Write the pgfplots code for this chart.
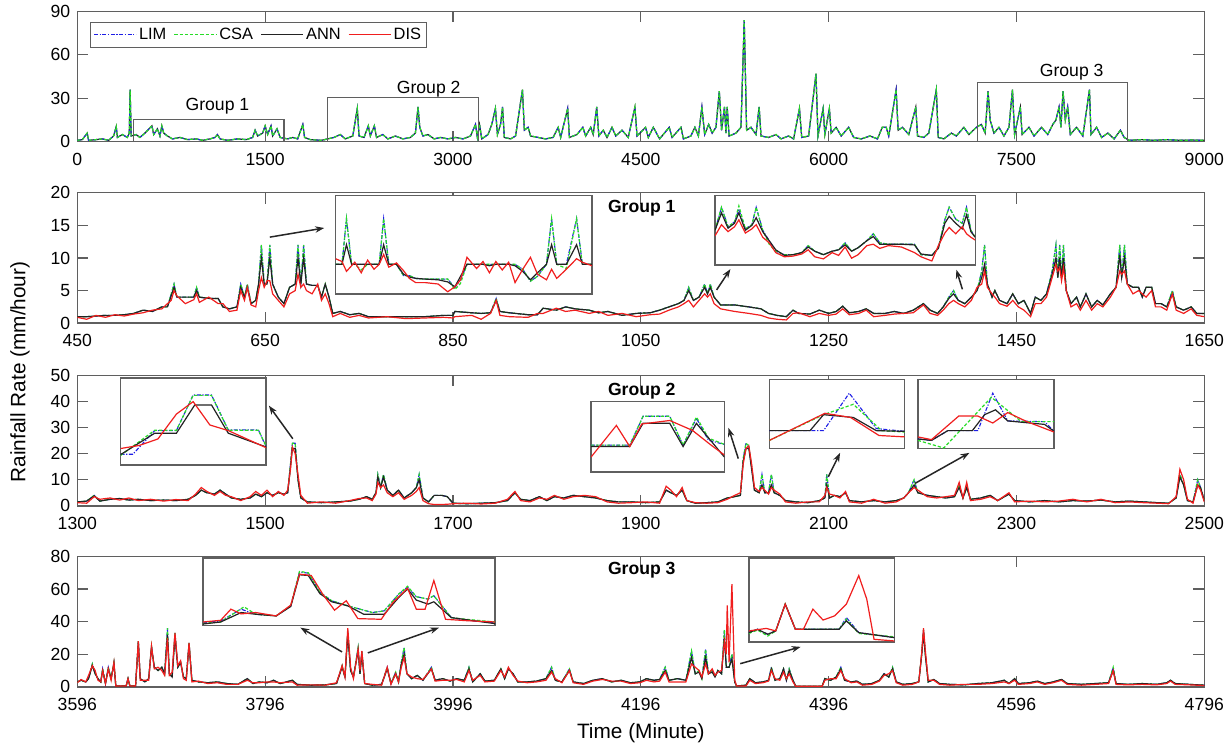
\documentclass[border=0pt]{standalone}
\usepackage{fontspec}
\setmainfont{Liberation Sans}
\usepackage{pgfplots}
\pgfplotsset{compat=1.18}
\usepackage{pgfplotstable}
\usetikzlibrary{arrows.meta}

\definecolor{limc}{RGB}{30,30,230}
\definecolor{csac}{RGB}{40,220,40}
\definecolor{annc}{RGB}{35,35,35}
\definecolor{disc}{RGB}{240,30,30}
\definecolor{frame}{RGB}{95,95,95}

\tikzset{
  lim/.style={draw=limc, line width=0.55pt, dash pattern=on 2pt off 0.8pt on 0.6pt off 0.8pt},
  csa/.style={draw=csac, line width=0.6pt, dash pattern=on 1.6pt off 1pt},
  ann/.style={draw=annc, line width=0.6pt, solid},
  dis/.style={draw=disc, line width=0.6pt, solid},
  arr/.style={-{Stealth[length=4.5pt,width=3.2pt]}, line width=0.75pt, draw=black!85, fill=black!85},
}
\pgfplotsset{
  panel/.style={scale only axis, anchor=south west, width=563.5pt, height=65.2pt,
    axis line style={frame, line width=0.7pt}, tick style={frame, line width=0.6pt},
    tick align=inside, major tick length=5.5pt, tick pos=both,
    ticklabel style={font=\fontsize{8.8}{10}\selectfont, text=black},
    xticklabel style={yshift=-2pt},
    /pgf/number format/assume math mode=true, /pgf/number format/1000 sep={},
    scaled ticks=false},
  inset/.style={scale only axis, anchor=south west, xtick=\empty, ytick=\empty,
    axis line style={frame, line width=0.7pt}, axis background/.style={fill=white},
    xmin=0, xmax=10, ymin=0, ymax=10},
}

% overview 0-9000 min
\pgfplotstableread{
x y
0 1
40 1.5
79 6
90 1
150 1.5
200 2
250 1
290 4
311 10.5
320 3
360 5
400 3
415 6
422 36
430 4
470 5
500 3
540 6
596 11
610 5
640 9
660 4
675 11
690 6
720 4
760 2
820 3
880 1.5
950 2
1000 1
1060 2
1100 3
1119 5
1140 2
1200 1
1280 2
1350 1.5
1400 3
1420 8
1440 4
1480 6
1500 11
1520 5
1547 11
1560 4
1595 9
1620 3
1680 2
1720 3
1760 2
1801 12
1815 3
1860 1.5
1950 1
2000 2
2050 3
2100 5
2140 2
2200 4
2236 23
2250 4
2290 3
2324 11
2340 4
2372 11
2390 3
2440 5
2480 2
2540 4
2600 2
2660 3
2700 6
2721 24
2735 10
2760 4
2800 5
2850 2
2900 3
2960 2
3020 3
3080 2
3140 4
3180 12
3195 3
3212 12
3230 2
3280 5
3310 12
3339 23
3355 5
3380 12
3396 24
3410 3
3460 2
3500 4
3555 36
3570 8
3600 10
3620 4
3680 3
3740 2
3800 3
3840 10
3860 3
3916 23
3930 3
3990 5
4037 10
4060 4
4100 10
4120 5
4148 24
4165 4
4200 8
4230 3
4270 10
4300 4
4350 8
4400 3
4453 24
4470 4
4538 10
4560 3
4600 10
4650 2
4727 10
4750 3
4821 10
4840 2
4900 4
4932 10
4960 4
4988 24
5010 5
5042 12
5070 6
5100 10
5127 35
5145 8
5168 24
5180 6
5190 24
5205 4
5260 6
5300 10
5326 84
5345 8
5380 10
5420 5
5445 24
5460 4
5520 3
5580 5
5620 2
5680 4
5720 2
5767 23
5785 3
5840 4
5899 47
5915 4
5956 23
5970 5
6006 23
6020 6
6060 10
6100 4
6160 10
6200 3
6260 2
6330 4
6390 2
6428 10
6460 10
6480 4
6539 36
6555 8
6590 10
6640 5
6696 24
6710 4
6760 3
6800 6
6860 36
6875 3
6920 2
6980 6
7020 4
7080 10
7120 5
7180 10
7220 12
7250 6
7273 35
7290 15
7320 6
7360 10
7400 4
7440 10
7468 36
7485 5
7531 24
7545 5
7600 10
7640 4
7700 10
7750 5
7790 12
7815 15
7840 24
7855 10
7872 35
7890 15
7909 24
7930 5
7980 10
8030 4
8083 36
8095 5
8140 10
8180 3
8230 6
8280 2
8330 8
8360 3
8400 1
8500 1.5
8600 1
8700 1.5
8800 1
8900 1.2
9000 1
}\tAll

% group 1
\pgfplotstableread{
x l c a d
450 1.0 1.0 1.0 0.9
460 1.0 1.0 1.0 0.6
470 1.1 1.1 1.1 1.2
480 1.2 1.2 1.2 0.9
490 1.2 1.2 1.2 1.3
500 1.3 1.3 1.3 1.1
510 1.5 1.5 1.5 1.4
520 2.0 2.0 2.0 1.6
530 1.8 1.8 1.8 2.0
540 2.5 2.5 2.5 2.2
546 2.5 2.5 2.5 3.0
550 4.5 4.5 4.2 3.5
553 6.0 6.0 5.5 5.0
556 4.0 4.0 4.0 4.2
565 4.0 4.0 4.0 3.0
574 4.0 4.0 4.0 3.6
577 5.5 5.5 5.0 4.5
580 4.0 4.0 4.0 3.2
590 3.8 3.8 3.8 4.0
600 3.8 3.8 3.8 3.0
605 2.5 2.5 2.5 3.0
612 2.2 2.2 2.2 1.8
620 2.5 2.5 2.5 2.0
624 6.0 6.0 5.5 5.0
628 4.0 4.0 4.0 3.5
631 6.0 6.0 5.5 5.5
635 3.0 3.0 3.0 2.8
640 3.5 3.5 3.5 2.5
643 6.0 6.0 6.0 5.0
646 12.0 12.0 10.0 7.0
649 6.0 6.0 6.0 5.5
652 6.0 6.0 6.0 6.5
655 12.0 12.0 10.0 6.5
658 6.0 6.0 6.0 4.5
664 4.0 4.0 4.0 3.5
670 3.0 3.0 3.0 2.5
676 5.5 5.5 5.5 4.5
682 6.0 6.0 6.0 5.0
685 12.0 12.0 10.0 7.5
688 6.0 6.0 6.0 5.5
691 12.0 12.0 10.0 6.0
694 6.0 6.0 6.0 5.0
700 5.8 5.8 5.8 4.5
706 5.8 5.8 5.8 6.0
710 4.0 4.0 4.0 3.5
714 6.0 6.0 6.0 4.5
718 4.0 4.0 4.0 3.0
722 1.5 1.5 1.5 1.0
730 1.8 1.8 1.8 1.5
740 1.3 1.3 1.3 0.9
750 1.5 1.5 1.5 1.2
760 1.0 1.0 1.0 0.8
780 1.0 1.0 1.0 1.0
800 1.0 1.0 1.0 0.7
820 1.0 1.0 1.0 0.8
840 1.2 1.2 1.2 0.9
850 1.2 1.2 1.2 0.8
852 1.8 1.8 1.8 1.0
870 1.6 1.6 1.6 1.2
880 1.5 1.5 1.5 0.6
890 1.6 1.6 1.6 1.5
896 3.8 3.8 3.5 3.5
900 1.8 1.8 1.8 1.2
910 1.6 1.6 1.6 1.0
930 1.3 1.3 1.3 0.9
940 1.3 1.3 1.3 1.5
946 2.3 2.3 2.3 1.5
960 2.0 2.0 2.0 2.3
970 2.5 2.5 2.5 1.8
980 2.2 2.2 2.2 2.0
995 2.0 2.0 2.0 1.5
1005 1.6 1.6 1.6 1.8
1015 1.8 1.8 1.8 1.2
1030 1.2 1.2 1.2 1.5
1045 1.5 1.5 1.5 1.0
1060 1.6 1.6 1.6 1.3
1070 2.0 2.0 2.0 1.4
1080 2.5 2.5 2.5 2.0
1090 3.0 3.0 3.0 2.5
1096 3.5 3.5 3.5 3.0
1101 5.5 5.5 5.0 3.5
1106 3.5 3.5 3.5 2.5
1112 4.0 4.0 4.0 3.5
1118 6.0 6.0 5.5 4.5
1121 4.5 4.5 4.5 4.0
1124 6.0 6.0 5.5 4.5
1128 4.0 4.0 4.0 3.0
1135 2.8 2.8 2.8 2.2
1150 2.8 2.8 2.8 1.8
1165 2.5 2.5 2.5 1.5
1178 2.2 2.2 2.2 1.2
1186 1.5 1.5 1.5 0.8
1195 1.2 1.2 1.2 0.6
1205 1.0 1.0 1.0 0.5
1212 2.0 2.0 2.0 1.5
1218 1.5 1.5 1.5 1.6
1230 1.4 1.4 1.4 1.0
1240 2.0 2.0 2.0 1.5
1250 1.5 1.5 1.5 1.2
1258 1.8 1.8 1.8 1.4
1265 2.6 2.6 2.6 2.2
1272 1.6 1.6 1.6 1.3
1282 1.8 1.8 1.8 1.5
1290 2.2 2.2 2.2 2.0
1298 1.5 1.5 1.5 1.0
1310 1.5 1.5 1.5 1.2
1320 1.8 1.8 1.8 1.4
1330 1.5 1.5 1.5 1.5
1340 2.0 2.0 2.0 1.6
1351 3.0 3.0 3.0 2.8
1358 2.0 2.0 2.0 1.5
1366 1.5 1.5 1.5 1.2
1372 2.5 2.5 2.5 2.0
1378 4.0 4.0 3.8 3.0
1383 5.0 5.0 4.5 3.5
1388 3.5 3.5 3.5 3.0
1395 3.0 3.0 3.0 2.5
1402 4.0 4.0 4.0 3.5
1408 5.0 5.0 5.0 5.5
1413 8.0 8.0 7.0 6.0
1416 12.0 12.0 9.0 8.0
1419 6.0 6.0 6.0 5.5
1424 4.0 4.0 4.0 4.5
1427 5.0 5.0 5.0 4.0
1432 3.5 3.5 3.5 3.0
1440 3.0 3.0 3.0 2.6
1446 4.5 4.5 4.5 3.5
1452 3.0 3.0 3.0 2.5
1458 3.5 3.5 3.5 2.0
1465 1.5 1.5 1.5 1.0
1470 4.0 4.0 4.0 3.0
1476 3.5 3.5 3.5 3.0
1482 4.5 4.5 4.5 4.0
1488 8.0 8.0 7.5 7.0
1492 12.0 12.0 10.0 9.0
1494 7.0 7.0 7.0 8.0
1496 12.0 12.0 10.0 8.5
1498 7.0 7.0 7.0 6.5
1500 12.0 12.0 10.0 8.5
1503 5.0 5.0 5.0 5.0
1508 3.0 3.0 3.0 2.5
1514 4.0 4.0 4.0 3.0
1518 2.5 2.5 2.5 2.0
1524 4.5 4.5 4.5 3.5
1530 2.5 2.5 2.5 2.0
1536 3.5 3.5 3.5 3.0
1542 2.8 2.8 2.8 2.5
1550 4.5 4.5 4.5 4.0
1556 5.5 5.5 5.5 5.5
1560 12.0 12.0 10.5 8.0
1562 7.0 7.0 7.0 7.5
1565 12.0 12.0 10.0 8.0
1568 6.0 6.0 6.0 6.0
1574 5.5 5.5 5.5 4.5
1580 5.5 5.5 5.5 5.0
1584 4.0 4.0 4.0 4.5
1588 5.5 5.5 5.5 4.0
1594 5.5 5.5 5.5 5.0
1598 3.0 3.0 3.0 2.5
1604 3.0 3.0 3.0 2.5
1610 2.5 2.5 2.5 2.0
1616 5.0 5.0 4.5 4.5
1620 2.5 2.5 2.5 2.0
1628 2.0 2.0 2.0 1.5
1636 2.5 2.5 2.5 2.2
1642 1.5 1.5 1.5 1.2
1650 1.5 1.5 1.5 1.0
}\tGa

% group 2
\pgfplotstableread{
x l c a d
1300 1.5 1.5 1.5 1.2
1310 1.8 1.8 1.8 1.0
1318 4.0 4.0 3.8 3.5
1324 1.8 1.8 1.8 2.5
1335 2.5 2.5 2.5 3.0
1345 2.8 2.8 2.8 2.2
1355 2.2 2.2 2.2 3.0
1365 2.5 2.5 2.5 2.0
1378 2.0 2.0 2.0 2.5
1392 2.2 2.2 2.2 1.8
1405 2.0 2.0 2.0 2.4
1418 2.5 2.5 2.5 2.0
1426 4.0 4.0 4.0 4.5
1432 6.0 6.0 6.0 7.0
1438 5.0 5.0 5.0 5.5
1446 4.5 4.5 4.5 4.0
1452 6.0 6.0 6.0 5.5
1458 4.5 4.5 4.5 4.0
1464 3.0 3.0 3.0 3.5
1474 2.5 2.5 2.5 2.0
1484 3.0 3.0 3.0 3.5
1490 4.5 4.5 4.5 5.5
1496 3.5 3.5 3.5 4.0
1502 5.0 5.0 5.0 6.0
1508 4.0 4.0 4.0 3.5
1514 5.0 5.0 5.0 5.5
1520 4.5 4.5 4.5 4.0
1524 5.0 5.0 5.0 6.0
1527 16.0 16.0 15.0 14.0
1529 24.0 24.0 22.0 22.5
1532 24.0 24.0 22.0 20.0
1535 10.0 10.0 10.0 12.0
1538 3.0 3.0 3.0 4.0
1545 1.5 1.5 1.5 1.0
1560 1.2 1.2 1.2 1.5
1575 1.5 1.5 1.5 1.0
1590 1.8 1.8 1.8 2.0
1600 2.5 2.5 2.5 2.8
1608 3.5 3.5 3.5 3.0
1614 2.5 2.5 2.5 2.0
1618 5.0 5.0 5.0 4.5
1620 12.0 12.0 11.0 9.0
1623 7.0 7.0 7.0 7.0
1626 12.0 12.0 11.0 8.0
1630 6.0 6.0 6.0 5.0
1636 4.0 4.0 4.0 3.5
1642 6.0 6.0 6.0 5.0
1648 3.0 3.0 3.0 2.5
1656 5.0 5.0 5.0 4.0
1661 7.0 7.0 7.0 5.5
1664 12.0 12.0 10.0 7.0
1668 3.0 3.0 3.0 2.0
1674 1.5 1.5 1.5 0.8
1680 4.0 4.0 4.0 0.5
1688 4.0 4.0 4.0 0.5
1694 3.5 3.5 3.5 0.6
1700 1.0 1.0 1.0 0.8
1715 0.8 0.8 0.8 1.0
1730 1.0 1.0 1.0 0.7
1745 1.2 1.2 1.2 1.0
1758 2.0 2.0 2.0 2.5
1766 5.0 5.0 5.0 5.5
1772 2.5 2.5 2.5 2.0
1782 2.0 2.0 2.0 1.5
1792 3.5 3.5 3.5 3.0
1800 2.0 2.0 2.0 2.5
1808 3.5 3.5 3.5 4.0
1818 3.0 3.0 3.0 2.5
1828 4.0 4.0 4.0 3.5
1840 3.5 3.5 3.5 4.0
1852 3.0 3.0 3.0 3.5
1864 2.0 2.0 2.0 1.5
1876 1.5 1.5 1.5 1.0
1890 1.5 1.5 1.5 1.2
1905 1.2 1.2 1.2 1.5
1920 1.5 1.5 1.5 1.0
1927 6.0 6.0 6.0 7.5
1932 5.0 5.0 5.0 6.0
1938 4.0 4.0 4.0 3.5
1944 6.0 6.0 6.0 7.0
1949 2.0 2.0 2.0 2.0
1958 1.0 1.0 1.0 1.2
1970 1.2 1.2 1.2 1.0
1982 1.5 1.5 1.5 1.2
1992 3.0 3.0 3.0 2.5
2000 3.5 3.5 3.5 4.0
2006 4.0 4.0 4.0 5.0
2009 18.0 18.0 17.0 16.0
2012 24.0 24.0 22.0 22.0
2015 23.0 23.0 22.0 23.0
2018 15.0 15.0 14.0 16.0
2021 6.0 6.0 6.0 7.0
2026 5.0 5.0 5.0 5.5
2029 12.0 12.0 8.0 7.0
2032 5.0 5.0 5.0 6.0
2036 5.0 5.0 5.0 4.5
2039 12.0 12.0 8.0 7.0
2042 5.0 5.0 5.0 6.0
2048 4.0 4.0 4.0 4.5
2054 2.0 2.0 2.0 1.5
2065 1.5 1.5 1.5 1.0
2078 1.2 1.2 1.2 1.5
2090 2.0 2.0 2.0 1.5
2096 3.0 3.0 3.0 4.0
2098 12.0 12.0 8.0 7.0
2101 3.0 3.0 3.0 4.5
2106 4.0 4.0 4.0 4.0
2112 3.5 3.5 3.5 3.0
2118 5.0 5.0 5.0 5.5
2122 2.0 2.0 2.0 1.5
2135 1.5 1.5 1.5 1.0
2148 2.0 2.0 2.0 2.5
2160 1.5 1.5 1.5 1.0
2172 2.0 2.0 2.0 1.5
2180 3.0 3.0 3.0 3.0
2185 5.0 5.0 5.0 5.0
2191 10.0 10.0 8.0 7.0
2195 5.0 5.0 5.0 6.0
2205 4.0 4.0 4.0 3.5
2215 3.5 3.5 3.5 3.0
2225 3.0 3.0 3.0 3.5
2234 3.5 3.5 3.5 4.0
2239 8.0 8.0 7.0 9.0
2243 3.0 3.0 3.0 3.0
2247 7.0 7.0 7.0 9.0
2251 2.5 2.5 2.5 2.0
2262 3.0 3.0 3.0 2.5
2272 4.0 4.0 4.0 3.5
2280 2.0 2.0 2.0 2.0
2292 4.5 4.5 4.5 5.0
2298 2.0 2.0 2.0 1.5
2315 1.5 1.5 1.5 1.8
2330 2.0 2.0 2.0 1.5
2345 1.5 1.5 1.5 1.8
2360 2.0 2.0 2.0 2.5
2375 1.8 1.8 1.8 1.5
2390 2.2 2.2 2.2 2.5
2405 1.5 1.5 1.5 1.2
2420 1.8 1.8 1.8 1.5
2435 1.5 1.5 1.5 1.2
2450 1.2 1.2 1.2 1.0
2462 1.0 1.0 1.0 0.8
2470 3.0 3.0 3.0 3.5
2474 12.0 12.0 11.0 14.0
2478 8.0 8.0 8.0 10.0
2482 2.0 2.0 2.0 2.5
2488 1.5 1.5 1.5 1.0
2493 10.0 10.0 8.0 8.0
2496 7.0 7.0 7.0 6.0
2500 2.0 2.0 2.0 1.5
}\tGb

% group 3
\pgfplotstableread{
x l c a d
3596 3.0 3.0 3.0 2.5
3600 4.0 4.0 4.0 4.5
3605 3.0 3.0 3.0 3.0
3608 5.0 5.0 5.0 7.0
3612 14.0 14.0 13.0 13.0
3615 8.0 8.0 8.0 10.0
3618 5.0 5.0 5.0 4.0
3621 3.0 3.0 3.0 3.0
3623 11.0 11.0 10.0 10.0
3626 2.0 2.0 2.0 2.0
3629 12.0 12.0 11.0 11.0
3632 5.0 5.0 5.0 4.0
3635 15.0 15.0 14.0 15.0
3637 0.5 0.5 0.5 0.5
3648 0.5 0.5 0.5 0.5
3650 5.0 5.0 5.0 5.0
3652 0.5 0.5 0.5 0.5
3658 0.5 0.5 0.5 0.5
3661 28.0 28.0 27.0 28.0
3663 5.0 5.0 5.0 4.0
3668 3.0 3.0 3.0 4.0
3672 5.0 5.0 5.0 4.0
3675 25.0 25.0 24.0 25.0
3678 12.0 12.0 12.0 11.0
3682 10.0 10.0 10.0 12.0
3686 12.0 12.0 12.0 10.0
3689 8.0 8.0 8.0 7.0
3692 36.0 36.0 32.0 30.0
3694 8.0 8.0 8.0 7.0
3697 6.0 6.0 6.0 9.0
3700 33.0 33.0 31.0 33.0
3703 12.0 12.0 12.0 13.0
3706 15.0 15.0 15.0 16.0
3709 6.0 6.0 6.0 5.0
3712 5.0 5.0 5.0 4.0
3715 27.0 27.0 26.0 27.0
3718 4.0 4.0 4.0 3.0
3725 3.0 3.0 3.0 3.5
3735 2.5 2.5 2.5 2.0
3745 3.0 3.0 3.0 2.5
3755 2.0 2.0 2.0 1.5
3767 1.5 1.5 1.5 1.5
3777 5.0 5.0 5.0 4.0
3783 2.0 2.0 2.0 2.5
3790 3.0 3.0 3.0 2.5
3798 2.5 2.5 2.5 3.0
3805 4.0 4.0 4.0 3.0
3812 2.0 2.0 2.0 2.5
3825 4.0 4.0 4.0 3.0
3830 1.5 1.5 1.5 1.0
3845 1.0 1.0 1.0 1.2
3860 1.2 1.2 1.2 1.0
3872 2.0 2.0 2.0 2.5
3878 13.0 13.0 12.0 13.0
3881 6.0 6.0 6.0 6.0
3884 34.0 34.0 32.0 36.0
3887 10.0 10.0 10.0 12.0
3890 6.0 6.0 6.0 5.0
3895 24.0 24.0 22.0 23.0
3897 8.0 8.0 8.0 10.0
3899 22.0 22.0 20.0 22.0
3902 2.0 2.0 2.0 2.0
3910 1.0 1.0 1.0 1.5
3920 1.5 1.5 1.5 1.0
3926 12.0 12.0 11.0 12.0
3930 2.0 2.0 2.0 1.5
3935 9.0 9.0 8.0 8.0
3938 3.0 3.0 3.0 3.0
3941 15.0 15.0 14.0 12.0
3944 24.0 24.0 20.0 18.0
3947 8.0 8.0 8.0 8.0
3952 5.0 5.0 5.0 6.0
3958 7.0 7.0 7.0 5.0
3964 4.0 4.0 4.0 4.5
3973 12.0 12.0 11.0 11.0
3977 4.0 4.0 4.0 3.5
3985 5.0 5.0 5.0 4.0
3993 3.5 3.5 3.5 4.0
4000 5.0 5.0 5.0 4.5
4008 4.0 4.0 4.0 3.0
4013 12.0 12.0 11.0 10.0
4017 3.0 3.0 3.0 4.0
4025 8.0 8.0 8.0 7.0
4030 3.5 3.5 3.5 3.0
4040 4.0 4.0 4.0 3.5
4047 11.0 11.0 11.0 10.0
4051 5.0 5.0 5.0 6.0
4055 11.0 11.0 11.0 12.0
4060 8.0 8.0 8.0 7.0
4065 3.0 3.0 3.0 3.5
4075 3.0 3.0 3.0 2.5
4085 3.5 3.5 3.5 3.0
4095 5.0 5.0 5.0 4.0
4101 12.0 12.0 10.0 9.0
4105 4.0 4.0 4.0 5.0
4112 3.0 3.0 3.0 2.5
4120 11.0 11.0 10.0 10.0
4124 3.0 3.0 3.0 2.5
4135 2.0 2.0 2.0 1.5
4145 4.0 4.0 4.0 3.5
4155 5.0 5.0 5.0 4.5
4165 3.0 3.0 3.0 3.5
4175 4.0 4.0 4.0 3.5
4185 2.5 2.5 2.5 2.0
4195 3.0 3.0 3.0 2.5
4202 5.0 5.0 5.0 4.0
4210 4.0 4.0 4.0 3.0
4216 4.5 4.5 4.5 3.5
4222 12.0 12.0 10.0 9.0
4226 4.0 4.0 4.0 3.0
4235 5.0 5.0 5.0 3.0
4244 4.0 4.0 4.0 3.0
4250 22.0 22.0 18.0 14.0
4254 8.0 8.0 8.0 12.0
4258 10.0 10.0 9.0 10.0
4261 5.0 5.0 5.0 6.0
4265 23.0 23.0 18.0 14.0
4268 8.0 8.0 8.0 8.0
4272 10.0 10.0 9.0 11.0
4275 6.0 6.0 6.0 7.0
4278 10.0 10.0 10.0 9.0
4282 8.0 8.0 8.0 10.0
4285 35.0 35.0 30.0 28.0
4287 12.0 12.0 12.0 20.0
4288 12.0 12.0 12.0 50.0
4290 12.0 12.0 12.0 15.0
4293 20.0 20.0 17.0 63.0
4296 3.0 3.0 3.0 4.0
4298 0.5 0.5 0.5 0.5
4308 1.0 1.0 1.0 0.5
4312 5.0 5.0 5.0 4.0
4318 2.5 2.5 2.5 2.0
4326 3.0 3.0 3.0 2.5
4332 4.0 4.0 4.0 3.5
4335 12.0 12.0 11.0 10.0
4339 4.0 4.0 4.0 5.0
4344 5.0 5.0 5.0 4.0
4348 11.0 11.0 11.0 9.0
4351 4.0 4.0 4.0 5.0
4354 11.0 11.0 10.0 8.0
4358 4.0 4.0 4.0 3.0
4361 0.3 0.3 0.3 0.3
4389 0.3 0.3 0.3 0.3
4392 5.0 5.0 5.0 4.0
4398 4.0 4.0 4.0 5.0
4404 6.0 6.0 6.0 5.0
4409 12.0 12.0 11.0 10.0
4413 4.0 4.0 4.0 5.0
4420 3.0 3.0 3.0 2.5
4426 3.5 3.5 3.5 3.0
4432 1.5 1.5 1.5 1.0
4442 2.0 2.0 2.0 1.5
4450 4.0 4.0 4.0 3.5
4455 8.0 8.0 8.0 7.0
4460 6.0 6.0 6.0 8.0
4464 12.0 12.0 11.0 10.0
4468 3.0 3.0 3.0 2.5
4475 1.5 1.5 1.5 1.0
4485 2.0 2.0 2.0 1.5
4492 3.0 3.0 3.0 3.0
4495 20.0 20.0 19.0 20.0
4497 35.0 35.0 33.0 36.0
4499 20.0 20.0 19.0 22.0
4502 3.0 3.0 3.0 4.0
4508 4.5 4.5 4.5 4.0
4514 2.0 2.0 2.0 1.5
4525 1.5 1.5 1.5 1.0
4540 1.2 1.2 1.2 1.5
4555 2.0 2.0 2.0 1.5
4570 2.5 2.5 2.5 2.0
4583 4.0 4.0 4.0 3.0
4588 2.0 2.0 2.0 2.0
4594 5.0 5.0 5.0 4.0
4598 2.0 2.0 2.0 1.5
4610 2.5 2.5 2.5 2.0
4618 3.5 3.5 3.5 3.0
4626 2.0 2.0 2.0 1.5
4635 3.0 3.0 3.0 2.5
4644 4.5 4.5 4.5 4.0
4650 2.0 2.0 2.0 1.5
4665 1.5 1.5 1.5 1.0
4680 2.0 2.0 2.0 1.5
4694 2.5 2.5 2.5 2.0
4699 12.0 12.0 10.0 10.0
4702 2.0 2.0 2.0 1.5
4715 1.5 1.5 1.5 1.2
4730 2.0 2.0 2.0 1.5
4745 1.5 1.5 1.5 1.2
4756 2.5 2.5 2.5 2.0
4760 4.0 4.0 4.0 3.5
4765 2.0 2.0 2.0 1.5
4780 1.5 1.5 1.5 1.2
4796 1.0 1.0 1.0 0.8
}\tGc

% zoom A (group 1, left)
\pgfplotstableread{
x l c a d
0 7.2 7.2 7.2 8.0
1 7.2 7.2 7.2 7.6
1.7 13.7 13.7 10.0 6.2
2.5 7.2 7.2 7.2 7.0
3 7.2 7.2 7.2 7.5
4 7.2 6.4 7.2 6.0
5 7.2 7.2 7.2 7.8
6 7.2 7.2 7.2 6.5
6.8 7.2 7.2 7.2 7.2
7.5 13.7 13.7 10.0 8.6
8.3 7.2 7.2 7.2 6.8
9.5 7.2 7.2 7.2 7.4
10.6 5.6 5.6 5.8 6.3
11.5 5.6 5.6 5.4 5.2
12.5 5.2 5.2 5.2 4.6
14 5.1 5.1 5.1 4.6
16 5.1 5.1 5.0 4.4
17.5 5.1 5.1 4.7 3.3
18.6 3.9 3.6 4.0 4.0
19.5 5.0 4.5 5.5 5.0
20.5 7.2 7.2 7.2 8.2
22 7.2 7.2 7.2 6.6
23 7.2 7.2 7.2 7.6
24 7.2 7.2 7.0 6.0
25 7.2 7.2 7.2 7.6
26 7.2 7.2 7.2 6.4
27 7.2 7.2 7.2 7.5
28 7.2 7.2 7.0 4.6
29.2 6.5 6.5 6.2 6.5
30.4 4.8 4.8 5.0 8.2
31.5 5.5 5.5 6.0 5.8
32.9 7.2 7.2 7.2 5.0
33.7 13.7 13.7 10.0 6.5
34.5 7.2 7.2 7.2 5.2
36 7.2 6.6 7.2 6.5
37.6 13.7 13.7 10.0 8.0
38.5 7.2 7.2 7.2 7.5
40 7.2 7.2 7.2 7.0
}\tZa

% zoom B (group 1, right)
\pgfplotstableread{
x l c a d
0 5.0 5.0 5.0 4.2
1.5 8.3 8.3 7.5 5.8
3 5.5 5.5 5.3 4.8
4.5 6.2 6.2 6.0 5.5
5.5 8.0 8.5 7.5 6.5
7 5.2 5.2 5.0 4.6
8.5 5.8 5.8 5.7 5.2
9.5 8.3 8.3 6.8 5.8
11 5.0 5.0 4.8 4.0
12.5 3.5 3.0 3.5 3.2
14 2.0 2.0 2.2 1.8
16 1.5 1.5 1.4 1.2
18 1.5 1.5 1.5 1.3
20 1.8 1.8 1.8 1.6
21.5 2.8 2.8 2.6 2.2
23 2.0 2.0 2.0 1.2
25 1.5 1.5 1.5 0.9
27 2.0 2.0 2.0 1.8
28.5 2.2 2.2 2.2 1.4
30 3.2 3.2 2.9 2.6
31.5 2.0 2.0 2.0 1.0
33 2.5 2.5 2.5 1.5
35 3.5 3.5 3.5 2.8
36.5 4.5 4.5 4.1 3.0
38 3.2 3.2 3.0 2.4
40 3.0 3.0 3.0 2.8
43 3.0 3.0 3.0 2.6
46 3.0 3.0 2.9 1.8
47.5 1.5 1.5 1.6 1.2
50 1.4 1.4 1.4 0.6
51.5 2.5 2.5 2.4 2.8
53 6.5 6.5 6.0 4.6
54 8.3 8.3 7.0 5.4
55.5 6.6 6.6 6.0 4.5
57 6.0 6.0 5.2 5.5
58 8.3 8.3 7.2 4.5
59 5.0 5.0 4.8 4.0
60 4.0 4.0 4.0 3.6
}\tZb

\begin{document}
\begin{tikzpicture}
\useasboundingbox (0,0) rectangle (614.5pt,375pt);

% ---------- overview ----------
\begin{axis}[panel, at={(38.65pt,304.1pt)},
  xmin=0, xmax=9000, ymin=0, ymax=90,
  xtick={0,1500,...,9000}, ytick={0,30,60,90},
  legend columns=4,
  legend style={at={(0.0119,0.915)}, anchor=north west, draw=none,
    fill=white, font=\fontsize{8.2}{9.5}\selectfont, inner sep=1.2pt,
    nodes={inner sep=1.2pt}, name=leg,
    /tikz/every even column/.append style={column sep=2.5pt}},
  legend cell align=left]
\addplot[ann, forget plot] table[x=x,y=y] {\tAll};
\addplot[lim, forget plot] table[x=x,y=y] {\tAll};
\addplot[csa, forget plot] table[x=x,y=y] {\tAll};
\addlegendimage{legend image code/.code={\draw[lim] (0pt,0pt) -- (21pt,0pt);}}
\addlegendentry{LIM}
\addlegendimage{legend image code/.code={\draw[csa] (0pt,0pt) -- (21pt,0pt);}}
\addlegendentry{CSA}
\addlegendimage{legend image code/.code={\draw[ann] (0pt,0pt) -- (21pt,0pt);}}
\addlegendentry{ANN}
\addlegendimage{legend image code/.code={\draw[dis] (0pt,0pt) -- (21pt,0pt);}}
\addlegendentry{DIS}
\draw[frame, line width=0.7pt] (axis cs:450,0) rectangle (axis cs:1650,15.2);
\draw[frame, line width=0.7pt] (axis cs:2000,0) rectangle (axis cs:3205,30.4);
\draw[frame, line width=0.7pt] (axis cs:7190,0) rectangle (axis cs:8385,41);
\node[font=\fontsize{8.8}{10}\selectfont] at (axis cs:1119,24.5) {Group 1};
\node[font=\fontsize{8.8}{10}\selectfont] at (axis cs:2806,36.3) {Group 2};
\node[font=\fontsize{8.8}{10}\selectfont] at (axis cs:7941,48) {Group 3};
\end{axis}
\draw[frame, line width=0.7pt] (leg.south west) rectangle (leg.north east);

% ---------- group 1 ----------
\begin{axis}[panel, at={(38.65pt,213.4pt)},
  xmin=450, xmax=1650, ymin=0, ymax=20,
  xtick={450,650,...,1650}, ytick={0,5,...,20}]
\addplot[lim] table[x=x,y=l] {\tGa};
\addplot[csa] table[x=x,y=c] {\tGa};
\addplot[ann] table[x=x,y=a] {\tGa};
\addplot[dis] table[x=x,y=d] {\tGa};
\node[font=\fontsize{8.8}{10}\selectfont\bfseries] at (axis cs:1051,17.6) {Group 1};
\draw[arr] (axis cs:655,13.2) -- (axis cs:712.9,14.6);
\draw[arr] (axis cs:1130.7,5.1) -- (axis cs:1145.4,8.3);
\draw[arr] (axis cs:1392.4,5.2) -- (axis cs:1386,8.2);
\coordinate (iA) at (axis cs:725,4.5);
\coordinate (iB) at (axis cs:1129,8.9);
\end{axis}
\begin{axis}[inset, at={(iA)}, width=128.2pt, height=49.2pt, xmax=40, ymin=3, ymax=17]
\addplot[lim] table[x=x,y=l] {\tZa};
\addplot[csa] table[x=x,y=c] {\tZa};
\addplot[ann] table[x=x,y=a] {\tZa};
\addplot[dis] table[x=x,y=d] {\tZa};
\end{axis}
\begin{axis}[inset, at={(iB)}, width=130.1pt, height=34.9pt, xmax=60]
\addplot[lim] table[x=x,y=l] {\tZb};
\addplot[csa] table[x=x,y=c] {\tZb};
\addplot[ann] table[x=x,y=a] {\tZb};
\addplot[dis] table[x=x,y=d] {\tZb};
\end{axis}

% ---------- group 2 ----------
\begin{axis}[panel, at={(38.65pt,122.1pt)},
  xmin=1300, xmax=2500, ymin=0, ymax=50,
  xtick={1300,1500,...,2500}, ytick={0,10,...,50}]
\addplot[lim] table[x=x,y=l] {\tGb};
\addplot[csa] table[x=x,y=c] {\tGb};
\addplot[ann] table[x=x,y=a] {\tGb};
\addplot[dis] table[x=x,y=d] {\tGb};
\node[font=\fontsize{8.8}{10}\selectfont\bfseries] at (axis cs:1901,44) {Group 2};
\draw[arr] (axis cs:1529.5,25.7) -- (axis cs:1504,38.4);
\draw[arr] (axis cs:2003.8,18.1) -- (axis cs:1993.3,29.9);
\draw[arr] (axis cs:2099.6,11.1) -- (axis cs:2112.2,20.3);
\draw[arr] (axis cs:2192,8.6) -- (axis cs:2249.9,20.3);
\coordinate (iC) at (axis cs:1346,15.6);
\coordinate (iD) at (axis cs:1847,13.0);
\coordinate (iE) at (axis cs:2037,21.9);
\coordinate (iF) at (axis cs:2195,21.9);
\end{axis}
\begin{axis}[inset, at={(iC)}, width=72.8pt, height=43.6pt]
\addplot[lim] coordinates {(0,1.25) (0.85,1.25) (2.35,3.96) (3.84,3.96) (4.99,8.04) (6.25,8.04) (7.4,4.04) (9.47,4.04) (10,2.08)};
\addplot[csa] coordinates {(0,1.1) (2.35,4.0) (3.84,4.0) (4.99,8.0) (6.25,8.0) (7.4,4.0) (9.47,4.0) (10,2.2)};
\addplot[ann] coordinates {(0,1.2) (2.35,3.66) (3.84,3.66) (5.1,6.9) (6.25,6.9) (7.4,3.66) (10,2.08)};
\addplot[dis] coordinates {(0,1.9) (1.3,2.26) (2.57,3.0) (3.84,5.85) (4.99,7.28) (6.14,4.6) (7.4,3.96) (10,2.0)};
\end{axis}
\begin{axis}[inset, at={(iD)}, width=66.7pt, height=35.2pt]
\addplot[lim] coordinates {(0,3.8) (2.9,3.8) (3.9,7.9) (5.9,7.9) (6.9,3.8) (7.9,7.6) (8.8,4.5) (10,3.9)};
\addplot[csa] coordinates {(0,3.8) (2.9,3.8) (3.9,7.9) (5.9,7.9) (6.9,3.8) (7.9,7.8) (8.8,4.8) (10,3.9)};
\addplot[ann] coordinates {(0,3.6) (2.9,3.6) (3.9,6.9) (5.9,6.9) (6.9,3.6) (7.9,6.9) (10,2.1)};
\addplot[dis] coordinates {(0,2.1) (1.9,6.6) (2.9,3.6) (3.8,6.8) (5.9,7.3) (7.6,5.9) (9.0,3.8) (10,2.4)};
\end{axis}
\begin{axis}[inset, at={(iE)}, width=67.6pt, height=34.7pt]
\addplot[lim] coordinates {(0,2.6) (4.0,2.6) (5.9,8.0) (7.9,2.9) (10,2.5)};
\addplot[csa] coordinates {(0,1.2) (4.0,4.9) (6.2,6.4) (8.3,2.6) (10,2.4)};
\addplot[ann] coordinates {(0,2.6) (3.0,2.6) (4.0,4.9) (6.2,4.5) (7.9,2.6) (10,2.5)};
\addplot[dis] coordinates {(0,1.2) (4.1,5.1) (6.0,4.5) (8.1,1.9) (10,1.7)};
\end{axis}
\begin{axis}[inset, at={(iF)}, width=68.1pt, height=34.7pt]
\addplot[lim] coordinates {(0,1.4) (1.0,1.2) (2.2,2.6) (4.4,2.6) (5.5,8.0) (6.6,4.0) (9.3,3.9) (10,2.5)};
\addplot[csa] coordinates {(0,1.2) (1.9,0.1) (5.4,7.4) (7.6,3.9) (10,3.9)};
\addplot[ann] coordinates {(0,1.4) (1.0,1.2) (2.2,2.6) (4.0,2.6) (4.9,4.9) (5.7,5.6) (6.6,4.0) (9.3,3.5) (10,2.5)};
\addplot[dis] coordinates {(0,1.7) (1.0,1.3) (3.0,4.7) (4.4,4.7) (5.5,3.7) (6.6,5.2) (8.0,3.9) (10,2.4)};
\end{axis}

% ---------- group 3 ----------
\begin{axis}[panel, at={(38.65pt,31.6pt)},
  xmin=3596, xmax=4796, ymin=0, ymax=80,
  xtick={3596,3796,...,4796}, ytick={0,20,...,80},
  xlabel={Time (Minute)},
  xlabel style={font=\fontsize{10.4}{12}\selectfont, at={(axis description cs:0.5,0)}, anchor=center, yshift=-23pt}]
\addplot[lim] table[x=x,y=l] {\tGc};
\addplot[csa] table[x=x,y=c] {\tGc};
\addplot[ann] table[x=x,y=a] {\tGc};
\addplot[dis] table[x=x,y=d] {\tGc};
\node[font=\fontsize{8.8}{10}\selectfont\bfseries] at (axis cs:4197,71.3) {Group 3};
\draw[arr] (axis cs:3877.9,21.4) -- (axis cs:3833.5,36.3);
\draw[arr] (axis cs:3905.3,20.8) -- (axis cs:3981.2,36.3);
\draw[arr] (axis cs:4301.9,14.2) -- (axis cs:4366.2,24.5);
\coordinate (iG) at (axis cs:3730,37.7);
\coordinate (iH) at (axis cs:4311,27.6);
\end{axis}
\begin{axis}[inset, at={(iG)}, width=146pt, height=33.7pt]
\addplot[lim] coordinates {(0,0.4) (0.6,0.65) (1.3,2.4) (1.8,1.65) (2.5,1.4) (3.0,2.9) (3.3,7.9) (3.6,7.75) (4.0,4.9) (4.4,3.65) (4.95,2.9) (5.8,1.9) (6.2,2.15) (6.7,4.65) (7.0,5.65) (7.3,4.25) (7.7,3.9) (7.9,4.4) (8.5,1.15) (9.0,0.75) (10,0.4)};
\addplot[csa] coordinates {(0,0.3) (0.6,0.5) (1.4,2.75) (1.8,1.65) (2.5,1.4) (3.0,2.9) (3.3,8.0) (3.6,7.8) (4.0,4.9) (4.4,3.65) (4.95,2.9) (5.8,1.9) (6.2,2.15) (6.7,4.65) (7.0,5.8) (7.3,4.25) (7.7,3.9) (7.9,4.4) (8.5,1.15) (9.0,0.9) (10,0.5)};
\addplot[ann] coordinates {(0,0.2) (0.6,0.5) (1.3,1.9) (1.8,1.65) (2.5,1.4) (3.0,2.8) (3.3,7.5) (3.6,7.4) (4.0,4.7) (4.4,3.5) (4.95,2.9) (5.5,1.65) (6.2,1.65) (6.7,4.15) (7.0,5.4) (7.3,3.75) (7.7,3.15) (7.9,3.5) (8.5,1.15) (10,0.25)};
\addplot[dis] coordinates {(0,0.5) (0.6,0.75) (0.95,2.4) (1.3,1.7) (1.8,1.9) (2.5,1.4) (3.0,3.0) (3.3,7.6) (3.7,7.4) (4.1,4.6) (4.5,2.25) (4.9,3.65) (5.3,1.0) (6.1,0.9) (6.5,3.4) (7.0,5.5) (7.3,2.4) (7.6,2.4) (7.9,6.65) (8.3,0.9) (9.0,0.7) (10,0.5)};
\end{axis}
\begin{axis}[inset, at={(iH)}, width=72.8pt, height=41.9pt]
\addplot[lim] coordinates {(0,1.1) (0.6,1.5) (1.3,0.9) (1.85,1.3) (2.5,4.5) (3.2,1.5) (6.2,1.5) (6.7,2.9) (7.55,1.1) (10,0.5)};
\addplot[csa] coordinates {(0,1.0) (0.6,1.4) (1.3,0.7) (1.85,1.3) (2.5,4.5) (3.2,1.5) (6.2,1.5) (6.7,2.7) (7.55,1.0) (10,0.6)};
\addplot[ann] coordinates {(0,1.1) (0.6,1.5) (1.3,0.9) (1.85,1.3) (2.5,4.5) (3.2,1.5) (6.2,1.5) (6.7,2.5) (7.55,1.1) (10,0.5)};
\addplot[dis] coordinates {(0,1.3) (1.2,1.6) (1.85,1.3) (2.5,4.5) (3.2,1.5) (3.75,1.5) (4.4,3.9) (5.1,2.6) (5.9,3.1) (6.7,4.5) (7.55,7.9) (8.1,5.1) (8.6,0.3) (10,0.1)};
\end{axis}

\node[rotate=90, font=\fontsize{10.4}{12}\selectfont] at (10pt,189pt) {Rainfall Rate (mm/hour)};
\end{tikzpicture}
\end{document}
